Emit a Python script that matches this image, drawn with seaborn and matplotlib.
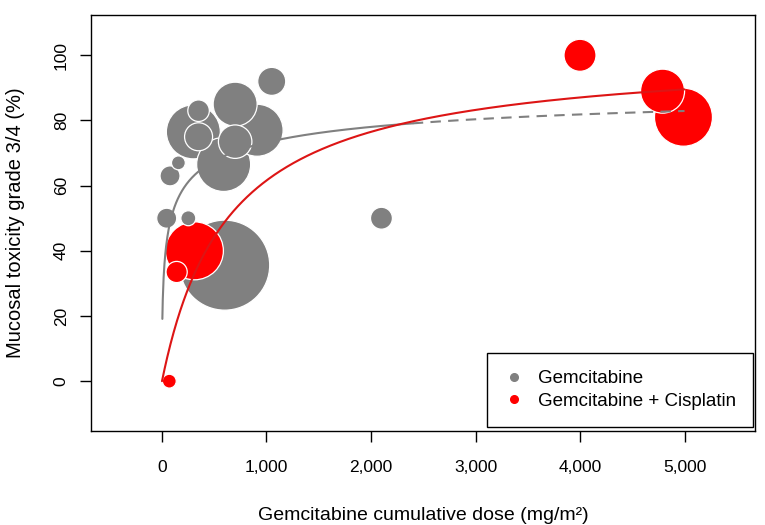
import matplotlib
matplotlib.use("Agg")
import matplotlib.pyplot as plt
from matplotlib.lines import Line2D
import seaborn as sns
import numpy as np
import pandas as pd

# study-level points: cumulative gemcitabine dose, grade 3/4 mucosal toxicity, study size
gem_dose = [45, 77, 157, 252, 300, 350, 350, 590, 700, 700, 910, 1050, 600, 2100]
gem_tox = [50, 63, 67, 50, 76.5, 83, 75, 66.5, 85, 73.5, 77, 92, 35.6, 50]
gem_n = [25, 25, 12, 14, 182, 29, 49, 182, 121, 70, 169, 49, 506, 30]

cis_dose = [70, 140, 310, 4000, 4790, 4990]
cis_tox = [0, 33.5, 40, 100, 89, 81]
cis_n = [12, 28, 210, 64, 121, 210]

# fitted Emax (Hill) curves
gem_emax, gem_ed50, gem_hill = 94.0, 66.0, 0.465
cis_emax, cis_ed50, cis_hill = 101.0, 640.0, 1.0
gem_fit_start, gem_fit_end, fit_max = 3.5, 2400, 5000

GREY = "#808080"
RED = "#ff0000"
RED_LINE = "#dd1515"


def emax_curve(x, emax, ed50, hill):
    return emax * x ** hill / (ed50 ** hill + x ** hill)


df = pd.concat([
    pd.DataFrame({"dose": gem_dose, "tox": gem_tox, "n": gem_n, "arm": "Gemcitabine"}),
    pd.DataFrame({"dose": cis_dose, "tox": cis_tox, "n": cis_n, "arm": "Gemcitabine + Cisplatin"}),
])
# big bubbles first so small ones sit on top
df = df.sort_values("n", ascending=False).reset_index(drop=True)

sns.set_style("ticks")
plt.rcParams["font.family"] = ["Liberation Sans", "DejaVu Sans"]

fig, ax = plt.subplots(figsize=(7.65, 5.25), dpi=100)
fig.subplots_adjust(left=0.119, right=0.987, top=0.971, bottom=0.179)

n_max = max(max(gem_n), max(cis_n))
sns.scatterplot(
    data=df, x="dose", y="tox", hue="arm", size="n",
    palette={"Gemcitabine": GREY, "Gemcitabine + Cisplatin": RED},
    sizes=(0, 8.3 * n_max), size_norm=(0, n_max),
    edgecolor="white", linewidth=0.9, alpha=1, legend=False, ax=ax, zorder=1,
)

x_solid = np.linspace(gem_fit_start, gem_fit_end, 600)
x_dash = np.linspace(gem_fit_end, fit_max, 200)
x_red = np.linspace(0, fit_max, 800)
ax.plot(x_solid, emax_curve(x_solid, gem_emax, gem_ed50, gem_hill), color=GREY, lw=1.5, zorder=3)
ax.plot(x_dash, emax_curve(x_dash, gem_emax, gem_ed50, gem_hill), color=GREY, lw=1.5,
        dashes=(5, 3.5), zorder=3)
ax.plot(x_red, emax_curve(x_red, cis_emax, cis_ed50, cis_hill), color=RED_LINE, lw=1.5, zorder=3)

ax.set_xlim(-679, 5675)
ax.set_ylim(-15.3, 112.3)
ax.set_xticks([0, 1000, 2000, 3000, 4000, 5000])
ax.set_xticklabels(["0", "1,000", "2,000", "3,000", "4,000", "5,000"])
ax.set_yticks([0, 20, 40, 60, 80, 100])

for side in ax.spines.values():
    side.set_color("black")
    side.set_linewidth(1.0)
ax.tick_params(axis="both", direction="out", length=8, width=1.0, color="black",
               labelsize=12.5, labelcolor="black")
ax.tick_params(axis="x", pad=13)
ax.tick_params(axis="y", labelrotation=90, pad=8)
for t in ax.get_yticklabels():
    t.set_va("center")

ax.set_xlabel("Gemcitabine cumulative dose (mg/m²)", fontsize=14, color="black")
ax.set_ylabel("Mucosal toxicity grade 3/4 (%)", fontsize=14.5, color="black")
ax.xaxis.set_label_coords(0.5, -0.183)
ax.yaxis.set_label_coords(-0.100, 0.5)

handles = [
    Line2D([], [], marker="o", ls="none", color=GREY, markersize=5.5),
    Line2D([], [], marker="o", ls="none", color=RED, markersize=5.5),
]
leg = ax.legend(handles, ["Gemcitabine", "Gemcitabine + Cisplatin"], loc="lower right",
                bbox_to_anchor=(0.997, 0.01), borderaxespad=0, fontsize=13.5,
                frameon=True, fancybox=False, framealpha=1, edgecolor="black",
                handlelength=1.0, handletextpad=0.8, borderpad=0.9, labelspacing=0.3,
                labelcolor="black")
leg.get_frame().set_linewidth(1.0)

fig.savefig("out.png", dpi=100)
